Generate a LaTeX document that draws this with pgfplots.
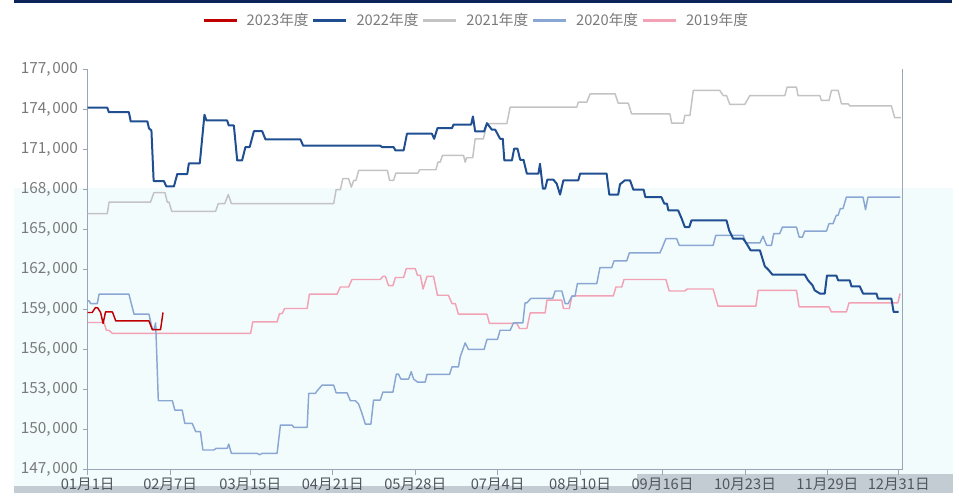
\documentclass[border=0pt]{standalone}
\usepackage{fontspec}
\setmainfont{Noto Sans CJK SC}
\usepackage{pgfplots}
\pgfplotsset{compat=1.18}

\definecolor{c2023}{HTML}{C00000}
\definecolor{c2022}{HTML}{1F4E91}
\definecolor{c2021}{HTML}{C3C3C3}
\definecolor{c2020}{HTML}{8AA7D4}
\definecolor{c2019}{HTML}{F2A2B4}
\definecolor{axisgray}{HTML}{9AA5B5}
\definecolor{labgray}{HTML}{7A7A7A}
\definecolor{xlab}{HTML}{50565E}
\definecolor{bgcyan}{HTML}{F3FCFD}
\definecolor{navybar}{HTML}{0B2459}
\definecolor{bargray}{HTML}{C3CCD2}

\newcommand{\ks}{,\hspace{0.12em}}

\begin{document}
\begin{tikzpicture}
% page frame, 1 px = 0.75pt
\begin{scope}[x=0.75pt,y=0.75pt]
\path[use as bounding box] (0,0) rectangle (959,493);
\fill[bgcyan] (14,0) rectangle (953,305);
\fill[navybar] (14,490) rectangle (952,493);
\fill[bargray] (14,0) rectangle (637,7);
\fill[bargray] (637,0) rectangle (953,19);
\end{scope}

\begin{axis}[
  at={(65.775pt,17.625pt)}, anchor=south west,
  width=611.1pt, height=300.4pt, scale only axis,
  xmin=1, xmax=366.7,
  ymin=147000, ymax=177000,
  axis x line*=bottom, axis y line*=left,
  axis line style={axisgray, line width=0.6pt},
  after end axis/.code={\draw[axisgray, line width=0.6pt] (rel axis cs:1,0) -- (rel axis cs:1,1);},
  tick align=outside, major tick length=3.75pt,
  tick style={axisgray, line width=0.6pt},
  xtick={1,38,74,111,148,185,222,259,296,333,365},
  xticklabels={01月1日,02月7日,03月15日,04月21日,05月28日,07月4日,08月10日,09月16日,10月23日,11月29日,12月31日},
  x tick label style={font=\fontsize{11}{12}\selectfont, text=xlab, yshift=1pt},
  scaled y ticks=false,
  ytick={147000,150000,153000,156000,159000,162000,165000,168000,171000,174000,177000},
  yticklabels={147\ks000,150\ks000,153\ks000,156\ks000,159\ks000,162\ks000,165\ks000,168\ks000,171\ks000,174\ks000,177\ks000},
  y tick label style={font=\fontsize{11.5}{12}\selectfont, text=labgray},
  legend columns=5, reverse legend,
  legend style={at={(0.4766,1.122)}, anchor=center, draw=none, fill=none,
    font=\fontsize{11}{12}\selectfont, text=labgray,
    nodes={inner xsep=1.5pt},
    /tikz/every even column/.append style={column sep=1pt},
    /tikz/every odd column/.append style={column sep=5pt}},
  legend image code/.code={\draw[#1, line width=2.2pt] (0pt,0pt) -- (24.75pt,0pt);},
  line join=round,
]
\addplot[c2019, line width=1.1pt] coordinates {
(1,158010) (8.3,158010) (9.4,157430) (10.5,157430) (12.1,157190) (74.1,157190)
(75.1,158060) (86,158060) (87.1,158680) (88.3,158680) (89.4,159060) (99.5,159060)
(100.5,160130) (112.9,160130) (114.4,160670) (118.1,160670) (119.6,161230) (132.3,161230)
(133.5,161470) (134.6,161470) (136,160780) (138,160780) (139.1,161380) (142.8,161380)
(144,162050) (148,162050) (149,161550) (150.3,161550) (151.5,160520) (153.3,161470)
(156.2,161470) (158,160050) (162.9,160050) (164.5,159430) (166,159430) (167.4,158630)
(180.2,158630) (181.3,157940) (193.6,157940) (194.8,157560) (198.1,157560) (199.6,158730)
(206.3,158730) (207.1,159680) (213.8,159680) (214.5,159060) (217.2,159060) (218.3,160000)
(236.9,160000) (238.1,160670) (240.7,160670) (241.7,161230) (260.5,161230) (262,160370)
(269,160370) (270.1,160520) (281.7,160520) (283.9,159230) (300.9,159230) (301.9,160420)
(319.1,160420) (320.3,159180) (333.7,159180) (334.8,158800) (341.5,158800) (342.7,159480)
(364.6,159480) (365.6,160180)
};
\addlegendentry{2019年度}
\addplot[c2020, line width=1.1pt] coordinates {
(1,159630) (1.6,159630) (2.3,159430) (5.3,159430) (6.1,160130) (19.5,160130)
(21.8,158630) (28.5,158630) (30,157480) (30.7,157480) (31.5,157980) (32.7,152150)
(39,152150) (40.1,151450) (43.4,151450) (44.6,150460) (47.9,150460) (49.5,149830)
(51.6,149830) (52.7,148460) (57.6,148460) (58.7,148590) (63.6,148590) (64.3,148900)
(65.5,148210) (77.1,148210) (78.1,148100) (79.3,148210) (86,148210) (87.5,150330)
(92.7,150330) (93.5,150160) (99.5,150160) (100.2,152700) (103.2,152700) (104,152900)
(106.2,153320) (111.4,153320) (112.5,152740) (117.4,152740) (118.9,152150) (121.1,152150)
(122.6,151900) (124.1,151200) (125.6,150400) (128.1,150400) (129.3,152200) (132.3,152200)
(133.5,152800) (138,152800) (139.5,154140) (140.5,154140) (141.6,153770) (145,153770)
(146.2,154320) (147.3,153770) (149,153550) (152.5,153550) (153.3,154120) (163.4,154120)
(164.5,154690) (167.4,154690) (168.2,155440) (170.4,156480) (171.9,155990) (178.9,155990)
(180.2,156740) (184.9,156740) (186.1,157430) (190.6,157430) (192.1,157980) (196.3,157980)
(197.3,159480) (198.1,159480) (199.9,159810) (209.7,159810) (210.8,160370) (213.8,160370)
(215.3,159430) (216.7,159430) (218.3,159980) (219.7,159980) (220.8,160930) (229.5,160930)
(230.9,162120) (236.2,162120) (237.2,162620) (242.9,162620) (244.1,163220) (257.8,163220)
(259,163670) (260.5,164290) (265.3,164290) (266.5,163790) (281.7,163790) (282.9,164540)
(295.2,164540) (296.4,163970) (302.7,163970) (304.1,164470) (305.7,163790) (307.9,163790)
(308.9,164670) (311.6,164670) (312.8,165160) (319.1,165160) (320.3,164410) (321.8,164410)
(322.8,164860) (332.6,164860) (333.7,165410) (335.5,165410) (337,166040) (337.8,166040)
(338.8,166540) (340,166540) (341.5,167400) (349,167400) (350.1,166460) (351.2,167400)
(365.7,167400)
};
\addlegendentry{2020年度}
\addplot[c2021, line width=1.1pt] coordinates {
(1,166160) (9.8,166160) (10.6,167030) (29.2,167030) (30.7,167730) (35.7,167730)
(36.7,167030) (37.5,167030) (38.7,166340) (58.4,166340) (59.6,166910) (62.5,166910)
(64.1,167590) (65.5,166910) (111.4,166910) (112.5,167960) (114.4,167960) (115.5,168780)
(118.1,168780) (119.3,168150) (120.4,168650) (121.4,168650) (122.6,169400) (135.5,169400)
(136.5,168650) (138.3,168650) (139.3,169200) (149.2,169200) (150,169450) (157.3,169450)
(158.2,170020) (159.2,170020) (160.2,170520) (169.7,170520) (170.4,170020) (171.1,170350)
(173.8,170350) (174.9,171770) (178.6,171770) (180.2,172900) (189.1,172900) (190.6,174140)
(220.5,174140) (221.2,174510) (225,174510) (226.5,175140) (237.7,175140) (239.1,174440)
(243.6,174440) (245.1,173640) (262.3,173640) (263.1,172940) (268.3,172940) (269,173520)
(271.3,173520) (272.8,175390) (284.7,175390) (286.2,175010) (287.7,175010) (289.2,174340)
(295.9,174340) (298.2,175010) (313.9,175010) (314.9,175640) (319.1,175640) (319.8,175010)
(329.6,175010) (330.3,174640) (333.7,174640) (334.8,175390) (337.8,175390) (339.3,174390)
(342.3,174390) (343,174240) (361.7,174240) (363.2,173350) (366,173350)
};
\addlegendentry{2021年度}
\addplot[c2022, line width=1.5pt] coordinates {
(1,174100) (9.8,174100) (10.5,173760) (19.5,173760) (20.3,173070) (27.8,173070)
(28.5,172550) (29.6,172400) (30.6,168600) (35.2,168600) (36.3,168200) (39.7,168200)
(41.2,169130) (45.7,169130) (46.4,169930) (51.3,169930) (53.4,173570) (54.3,173140)
(63.6,173140) (64.3,172770) (66.6,172770) (68.1,170150) (70.3,170150) (71.8,171150)
(73.7,171150) (75.6,172340) (79.3,172340) (80.8,171720) (96.5,171720) (97.7,171250)
(132.3,171250) (133.1,171150) (138.3,171150) (139.1,170900) (142.8,170900) (144.3,172150)
(155.5,172150) (156.5,171770) (158,172570) (164.5,172570) (165.2,172840) (173.1,172840)
(173.9,173440) (174.9,172320) (178.9,172320) (180.2,172940) (182.4,172450) (183.9,172450)
(186.1,171770) (187.3,171770) (188,170150) (191.4,170150) (192.4,171030) (193.9,171030)
(195.1,170200) (196.6,170200) (198.1,169160) (203.3,169160) (204,169900) (205.3,168030)
(206.3,168030) (207.3,168710) (210,168710) (211.5,168410) (213,167590) (214.5,168660)
(221.2,168660) (222,169160) (233.9,169160) (235.1,167590) (239.1,167590) (239.9,168360)
(242.1,168660) (244.4,168660) (245.9,167960) (250.5,167960) (251.3,167400) (258.5,167400)
(259.8,166910) (261,166910) (261.6,166410) (266,166410) (267.6,165790) (269,165160)
(271,165160) (272,165660) (287.7,165660) (288.9,164910) (290.7,164290) (295.2,164290)
(296.7,163920) (298.5,163420) (302.7,163420) (304.9,162220) (306.4,161980) (308.3,161600)
(322.8,161600) (324.3,161170) (326.3,160800) (327.3,160420) (329.6,160180) (331.8,160180)
(332.8,161530) (337,161530) (337.8,161170) (343,161170) (343.8,160720) (347.5,160720)
(349,160180) (355,160180) (355.7,159800) (361.7,159800) (362.7,158800) (365,158800)
};
\addlegendentry{2022年度}
\addplot[c2023, line width=1.1pt] coordinates {
(1,158760) (3,158760) (4.5,159130) (5.5,159100) (6.8,158760) (7.9,157940)
(9,158800) (12.1,158800) (13.6,158130) (28.5,158130) (30,157480) (33.7,157480)
(34.8,158760)
};
\addlegendentry{2023年度}
\end{axis}
\end{tikzpicture}
\end{document}
